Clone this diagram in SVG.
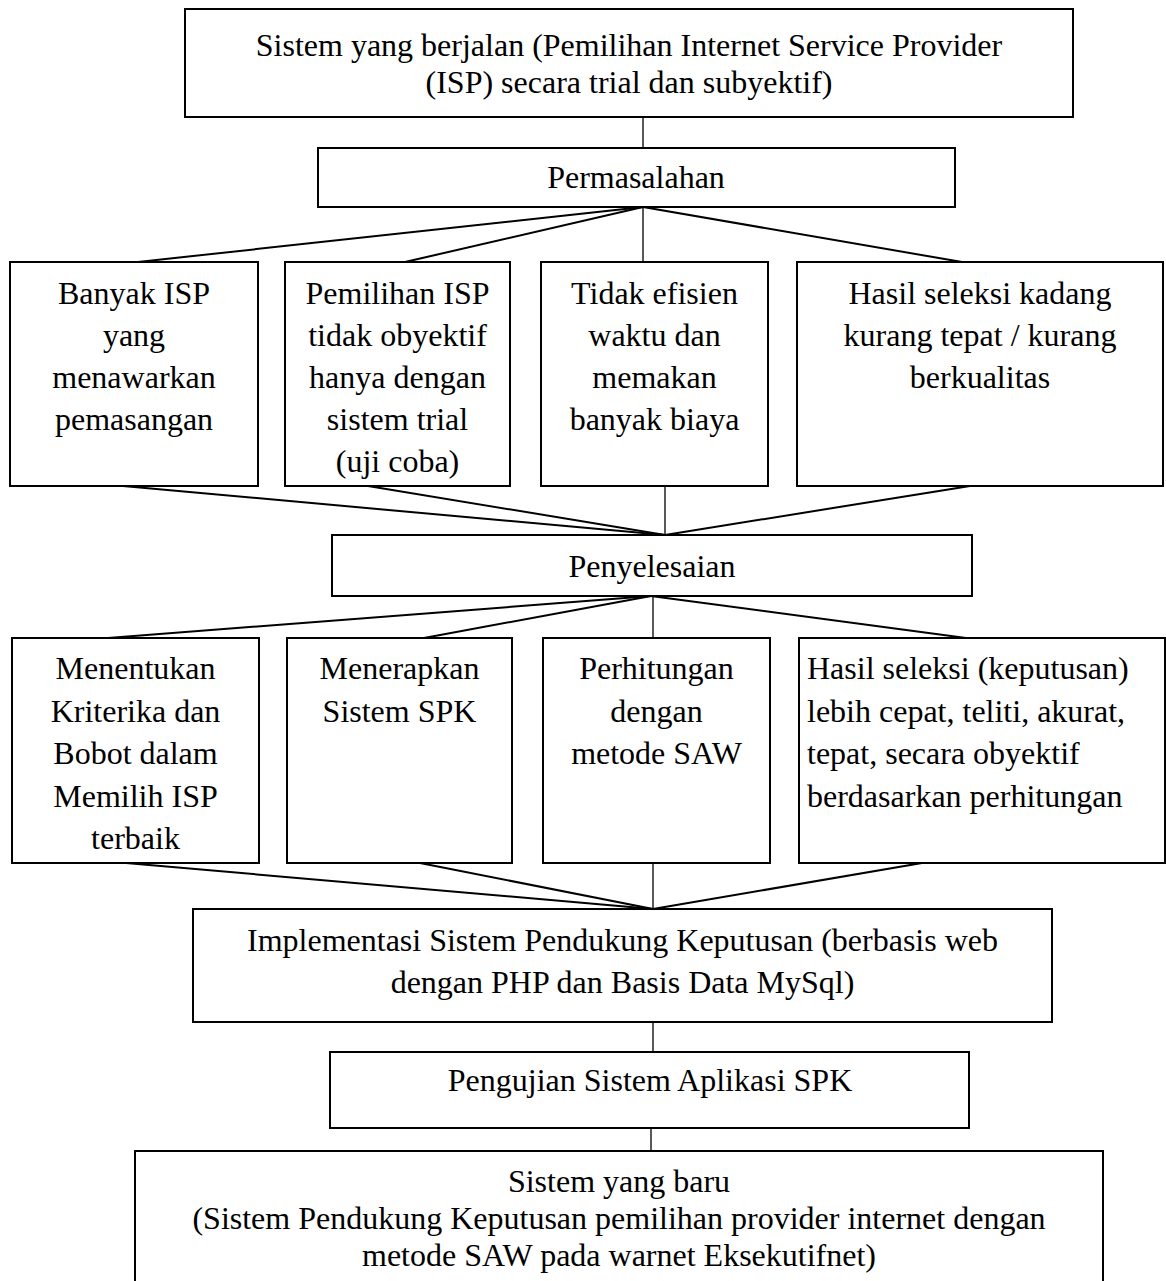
<svg xmlns="http://www.w3.org/2000/svg" width="1166" height="1281" viewBox="0 0 1166 1281">
<style>
.box{fill:#fff;stroke:#000;stroke-width:2}
.t{font-family:"Liberation Serif","Times New Roman",serif;font-size:32px;fill:#000;text-anchor:middle}
.tl{font-family:"Liberation Serif","Times New Roman",serif;font-size:32px;fill:#000;text-anchor:start}
.c{stroke:#000;stroke-width:2;fill:none}
.v{stroke:#000;stroke-width:1.3;fill:none}
</style>
<rect width="1166" height="1281" fill="#fff"/>
<g id="connectors">
<line class="v" x1="643" y1="117" x2="643" y2="148"/>
<line class="c" x1="643" y1="207" x2="138" y2="262"/>
<line class="c" x1="643" y1="207" x2="405" y2="262"/>
<line class="v" x1="643" y1="207" x2="643" y2="262"/>
<line class="c" x1="643" y1="207" x2="962" y2="262"/>
<line class="c" x1="123" y1="486" x2="665" y2="535"/>
<line class="c" x1="368" y1="486" x2="665" y2="535"/>
<line class="v" x1="665" y1="486" x2="665" y2="535"/>
<line class="c" x1="970" y1="486" x2="665" y2="535"/>
<line class="c" x1="651" y1="596" x2="108" y2="638"/>
<line class="c" x1="651" y1="596" x2="424" y2="638"/>
<line class="v" x1="653" y1="596" x2="653" y2="638"/>
<line class="c" x1="651" y1="596" x2="966" y2="638"/>
<line class="c" x1="126" y1="863" x2="653" y2="909"/>
<line class="c" x1="420" y1="863" x2="653" y2="909"/>
<line class="v" x1="653" y1="863" x2="653" y2="909"/>
<line class="c" x1="922" y1="863" x2="653" y2="909"/>
<line class="v" x1="653" y1="1022" x2="653" y2="1052"/>
<line class="v" x1="651" y1="1124" x2="651" y2="1155"/>
</g>
<g id="n-sistem-berjalan">
<rect class="box" x="185" y="9" width="888" height="108"/>
<text class="t" x="629" y="56">Sistem yang berjalan (Pemilihan Internet Service Provider</text>
<text class="t" x="629" y="93">(ISP) secara trial dan subyektif)</text>
</g>
<g id="n-permasalahan">
<rect class="box" x="318" y="148" width="637" height="59"/>
<text class="t" x="636" y="188">Permasalahan</text>
</g>
<g id="n-banyak-isp">
<rect class="box" x="10" y="262" width="248" height="224"/>
<text class="t" x="134" y="304">Banyak ISP</text>
<text class="t" x="134" y="346">yang</text>
<text class="t" x="134" y="388">menawarkan</text>
<text class="t" x="134" y="430">pemasangan</text>
</g>
<g id="n-pemilihan-isp">
<rect class="box" x="285" y="262" width="225" height="224"/>
<text class="t" x="397.5" y="304">Pemilihan ISP</text>
<text class="t" x="397.5" y="346">tidak obyektif</text>
<text class="t" x="397.5" y="388">hanya dengan</text>
<text class="t" x="397.5" y="430">sistem trial</text>
<text class="t" x="397.5" y="472">(uji coba)</text>
</g>
<g id="n-tidak-efisien">
<rect class="box" x="541" y="262" width="227" height="224"/>
<text class="t" x="654.5" y="304">Tidak efisien</text>
<text class="t" x="654.5" y="346">waktu dan</text>
<text class="t" x="654.5" y="388">memakan</text>
<text class="t" x="654.5" y="430">banyak biaya</text>
</g>
<g id="n-hasil-kurang">
<rect class="box" x="797" y="262" width="366" height="224"/>
<text class="t" x="980" y="304">Hasil seleksi kadang</text>
<text class="t" x="980" y="346">kurang tepat / kurang</text>
<text class="t" x="980" y="388">berkualitas</text>
</g>
<g id="n-penyelesaian">
<rect class="box" x="332" y="535" width="640" height="61"/>
<text class="t" x="652" y="577">Penyelesaian</text>
</g>
<g id="n-menentukan">
<rect class="box" x="12" y="638" width="247" height="225"/>
<text class="t" x="135.5" y="679">Menentukan</text>
<text class="t" x="135.5" y="721.5">Kriterika dan</text>
<text class="t" x="135.5" y="764">Bobot dalam</text>
<text class="t" x="135.5" y="806.5">Memilih ISP</text>
<text class="t" x="135.5" y="849">terbaik</text>
</g>
<g id="n-menerapkan">
<rect class="box" x="287" y="638" width="225" height="225"/>
<text class="t" x="399.5" y="679">Menerapkan</text>
<text class="t" x="399.5" y="721.5">Sistem SPK</text>
</g>
<g id="n-perhitungan">
<rect class="box" x="543" y="638" width="227" height="225"/>
<text class="t" x="656.5" y="679">Perhitungan</text>
<text class="t" x="656.5" y="721.5">dengan</text>
<text class="t" x="656.5" y="764">metode SAW</text>
</g>
<g id="n-hasil-cepat">
<rect class="box" x="799" y="638" width="366" height="225"/>
<text class="tl" x="807" y="679">Hasil seleksi (keputusan)</text>
<text class="tl" x="807" y="721.5">lebih cepat, teliti, akurat,</text>
<text class="tl" x="807" y="764">tepat, secara obyektif</text>
<text class="tl" x="807" y="806.5">berdasarkan perhitungan</text>
</g>
<g id="n-implementasi">
<rect class="box" x="193" y="909" width="859" height="113"/>
<text class="t" x="622.5" y="951">Implementasi Sistem Pendukung Keputusan (berbasis web</text>
<text class="t" x="622.5" y="993">dengan PHP dan Basis Data MySql)</text>
</g>
<g id="n-pengujian">
<rect class="box" x="330" y="1052" width="639" height="76"/>
<text class="t" x="650" y="1091">Pengujian Sistem Aplikasi SPK</text>
</g>
<g id="n-sistem-baru">
<rect class="box" x="135" y="1151" width="968" height="150"/>
<text class="t" x="619" y="1192">Sistem yang baru</text>
<text class="t" x="619" y="1229">(Sistem Pendukung Keputusan pemilihan provider internet dengan</text>
<text class="t" x="619" y="1266">metode SAW pada warnet Eksekutifnet)</text>
</g>
</svg>
